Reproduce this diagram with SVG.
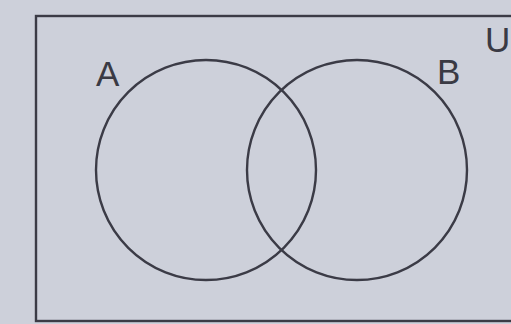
<svg xmlns="http://www.w3.org/2000/svg" width="511" height="324" viewBox="0 0 511 324">
<style>
.ln{fill:none;stroke:#3b3b46;stroke-width:2.4}
.lb{font-family:"Liberation Sans",Arial,sans-serif;font-size:35px;fill:#3a3a44}
</style>
<rect x="0" y="0" width="511" height="324" fill="#cdd0da"/>
<g id="universe">
<rect x="36" y="16" width="500" height="305" fill="#c6c8d4" class="ln"/>
<text class="lb" x="485" y="52">U</text>
</g>
<g id="setA">
<circle cx="206" cy="170" r="110" class="ln"/>
<text class="lb" x="96" y="86">A</text>
</g>
<g id="setB">
<circle cx="357" cy="170" r="110" class="ln"/>
<text class="lb" x="437" y="84">B</text>
</g>
</svg>
